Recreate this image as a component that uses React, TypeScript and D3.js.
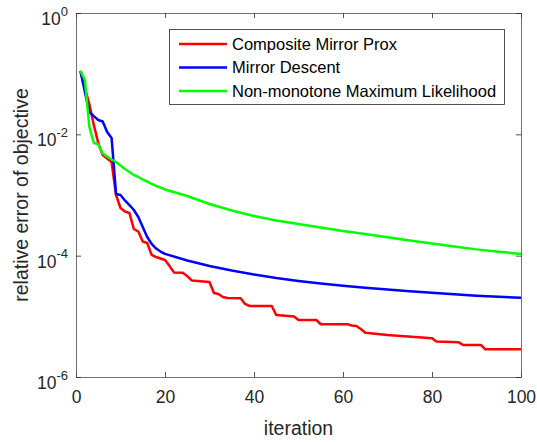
import { useEffect, useRef } from "react"
import * as d3 from "d3"

// Composite Mirror Prox (step-like, breakpoints)
const redIter = [1, 2, 3, 4, 5, 6, 7, 8, 9, 10, 11, 12, 13, 14, 15, 16, 17, 18, 19, 20, 21, 22, 24, 25, 26, 30, 31, 32, 33, 34, 37, 38, 39, 44, 45, 49, 50, 54, 55, 61, 62, 63, 64, 65, 70, 80, 81, 86, 87, 91, 92, 100]
const redVal = [0.111, 0.0581, 0.0316, 0.0143, 0.00719, 0.00457, 0.00398, 0.0035, 1.0e-3, 6.1e-4, 5.35e-4, 5.05e-4, 2.75e-4, 2.5e-4, 1.71e-4, 1.62e-4, 1.03e-4, 9.5e-5, 9.0e-5, 8.5e-5, 6.8e-5, 5.3e-5, 5.25e-5, 4.6e-5, 3.9e-5, 3.68e-5, 2.43e-5, 2.33e-5, 2.08e-5, 2.0e-5, 1.98e-5, 1.6e-5, 1.48e-5, 1.48e-5, 1.05e-5, 9.95e-6, 8.7e-6, 8.7e-6, 7.4e-6, 7.4e-6, 7.06e-6, 6.93e-6, 6.19e-6, 5.37e-6, 4.93e-6, 4.35e-6, 3.85e-6, 3.73e-6, 3.37e-6, 3.37e-6, 2.86e-6, 2.86e-6]

// Mirror Descent
const blueIter = [1, 2, 3, 4, 5, 6, 7, 8, 9, 10, 11, 12, 13, 14, 15, 16, 17, 18, 19, 20, 25, 30, 35, 40, 45, 50, 55, 60, 65, 70, 75, 80, 85, 90, 95, 100]
const blueVal = [0.111, 0.0499, 0.0233, 0.02, 0.0172, 0.0163, 0.0109, 0.0087, 0.00104, 0.001, 8.12e-4, 6.84e-4, 5.66e-4, 4.34e-4, 2.97e-4, 2.03e-4, 1.56e-4, 1.31e-4, 1.17e-4, 1.07e-4, 8.33e-5, 6.76e-5, 5.7e-5, 4.9e-5, 4.29e-5, 3.83e-5, 3.48e-5, 3.2e-5, 2.97e-5, 2.77e-5, 2.6e-5, 2.45e-5, 2.31e-5, 2.19e-5, 2.1e-5, 2.02e-5]

// Non-monotone Maximum Likelihood
const greenIter = [1, 2, 3, 4, 5, 6, 7, 8, 9, 10, 11, 12, 13, 14, 15, 16, 17, 18, 19, 20, 25, 30, 35, 40, 45, 50, 55, 60, 65, 70, 75, 80, 85, 90, 95, 100]
const greenVal = [0.111, 0.0787, 0.0132, 0.0072, 0.0069, 0.00483, 0.00431, 0.00385, 0.0035, 0.00306, 0.00268, 0.00239, 0.00214, 0.00198, 0.0018, 0.00167, 0.00153, 0.00141, 0.00133, 0.00123, 9.63e-4, 7.11e-4, 5.55e-4, 4.51e-4, 3.8e-4, 3.33e-4, 2.91e-4, 2.55e-4, 2.28e-4, 2.01e-4, 1.78e-4, 1.59e-4, 1.42e-4, 1.27e-4, 1.16e-4, 1.07e-4]

const seriesNames = ["Composite Mirror Prox", "Mirror Descent", "Non-monotone Maximum Likelihood"]
const seriesColors = ["#ff0000", "#0000ff", "#00ff00"]
const xTicks = [0, 20, 40, 60, 80, 100]
const yTicks = [1, 1e-2, 1e-4, 1e-6]
const yTickExp = ["0", "-2", "-4", "-6"]

const W = 537
const H = 442
const FONT = "'Liberation Sans', Arial, Helvetica, sans-serif"
const AX = "#262626"

export default function App() {
  const svgRef = useRef<SVGSVGElement>(null)

  useEffect(() => {
    if (!svgRef.current) return
    const svg = d3.select(svgRef.current)
    svg.selectAll("*").remove()

    const left = 76, right = 521, top = 13, bottom = 377
    const x = d3.scaleLinear().domain([0, 100]).range([left, right])
    const y = d3.scaleLog().domain([1e-6, 1]).range([bottom, top])

    svg.append("rect").attr("width", W).attr("height", H).attr("fill", "#fff")

    // series
    const series = [
      redIter.map((it, i) => [it, redVal[i]]),
      blueIter.map((it, i) => [it, blueVal[i]]),
      greenIter.map((it, i) => [it, greenVal[i]]),
    ]
    const line = d3
      .line<number[]>()
      .x((d) => x(d[0]))
      .y((d) => y(d[1]))

    const plot = svg.append("g")
    series.forEach((s, i) => {
      plot
        .append("path")
        .datum(s)
        .attr("d", line)
        .attr("fill", "none")
        .attr("stroke", seriesColors[i])
        .attr("stroke-width", 2.5)
        .attr("stroke-linejoin", "round")
    })

    // x axis (bottom + mirrored top)
    const gx = svg
      .append("g")
      .attr("transform", `translate(0,${bottom})`)
      .call(d3.axisBottom(x).tickValues(xTicks).tickSizeInner(-5).tickSizeOuter(0).tickPadding(14))
    gx.selectAll("text").attr("font-size", 17.5).attr("fill", AX).attr("font-family", FONT)

    svg
      .append("g")
      .attr("transform", `translate(0,${top})`)
      .call(d3.axisTop(x).tickValues(xTicks).tickSizeInner(-5).tickSizeOuter(0).tickFormat(() => ""))

    // y axis (left + mirrored right)
    const gy = svg
      .append("g")
      .attr("transform", `translate(${left},0)`)
      .call(d3.axisLeft(y).tickValues(yTicks).tickSizeInner(-5).tickSizeOuter(0).tickPadding(8))
    gy.selectAll<SVGTextElement, number>("text").each(function (_d, i) {
      const t = d3.select(this)
      t.text(null).attr("dy", null).attr("y", 11.5).attr("font-size", 17.5).attr("fill", AX).attr("font-family", FONT)
      t.append("tspan").text("10")
      t.append("tspan").attr("dy", -9.5).attr("font-size", 13).text(yTickExp[i])
    })

    svg
      .append("g")
      .attr("transform", `translate(${right},0)`)
      .call(d3.axisRight(y).tickValues(yTicks).tickSizeInner(-5).tickSizeOuter(0).tickFormat(() => ""))

    svg.selectAll(".tick line").attr("stroke", AX).attr("stroke-width", 0.8)
    svg.selectAll(".domain").attr("stroke", "#4d4d4d").attr("stroke-width", 0.8)

    // axis labels
    svg
      .append("text")
      .attr("x", (left + right) / 2)
      .attr("y", 435)
      .attr("text-anchor", "middle")
      .attr("font-family", FONT)
      .attr("font-size", 19.5)
      .attr("fill", AX)
      .text("iteration")

    svg
      .append("text")
      .attr("transform", `translate(28,${(top + bottom) / 2}) rotate(-90)`)
      .attr("text-anchor", "middle")
      .attr("font-family", FONT)
      .attr("font-size", 19.5)
      .attr("fill", AX)
      .text("relative error of objective")

    // legend
    const lg = svg.append("g")
    lg.append("rect")
      .attr("x", 169.5)
      .attr("y", 29.5)
      .attr("width", 335)
      .attr("height", 75)
      .attr("fill", "#fff")
      .attr("stroke", AX)
      .attr("stroke-width", 0.8)
    seriesNames.forEach((name, i) => {
      const ly = 44 + i * 23.5
      lg.append("line")
        .attr("x1", 179)
        .attr("x2", 227)
        .attr("y1", ly)
        .attr("y2", ly)
        .attr("stroke", seriesColors[i])
        .attr("stroke-width", 2.5)
      lg.append("text")
        .attr("x", 232)
        .attr("y", ly)
        .attr("dy", "0.35em")
        .attr("font-family", FONT)
        .attr("font-size", 16.5)
        .attr("fill", "#000")
        .text(name)
    })
  }, [])

  return (
    <div style={{ position: "absolute", left: 0, top: 0, width: W, height: H }}>
      <svg ref={svgRef} width={W} height={H} />
    </div>
  )
}
